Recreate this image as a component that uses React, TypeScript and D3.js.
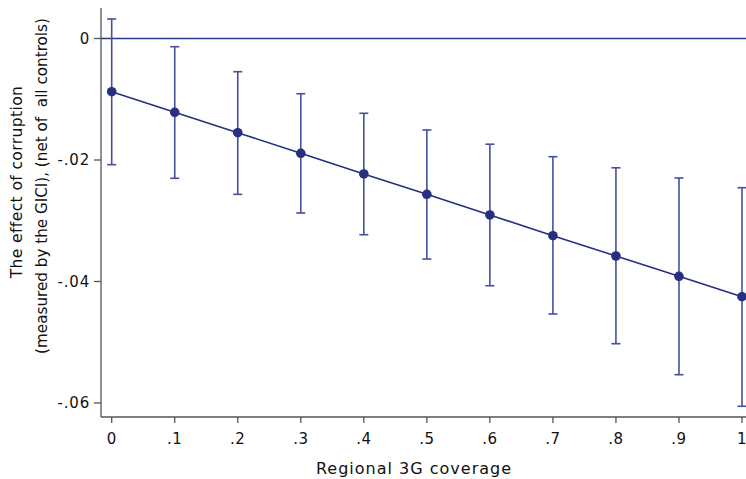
import React from "react";
import * as d3 from "d3";

const coverage = [0, 0.1, 0.2, 0.3, 0.4, 0.5, 0.6, 0.7, 0.8, 0.9, 1];
const effect = [-0.00876, -0.01215, -0.01551, -0.0189, -0.0223, -0.02565, -0.02905, -0.03246, -0.0358, -0.03914, -0.0425];
const upper = [0.00321, -0.00135, -0.00547, -0.00909, -0.01231, -0.01506, -0.0174, -0.01946, -0.02128, -0.02296, -0.02456];
const lower = [-0.02077, -0.02301, -0.02565, -0.02872, -0.0323, -0.0363, -0.0407, -0.04535, -0.05024, -0.05534, -0.06054];
const xTicks = [0, 0.1, 0.2, 0.3, 0.4, 0.5, 0.6, 0.7, 0.8, 0.9, 1];
const xTickLabels = ["0", ".1", ".2", ".3", ".4", ".5", ".6", ".7", ".8", ".9", "1"];
const yTicks = [0, -0.02, -0.04, -0.06];
const yTickLabels = ["0", "-.02", "-.04", "-.06"];
const xTitle = "Regional 3G coverage";
const yTitle1 = "The effect of corruption";
const yTitle2 = "(measured by the GICI), (net of  all controls)";

export default function App() {
  const W = 746, H = 479;
  const x = d3.scaleLinear().domain([0, 1]).range([111.7, 742]);
  const y = d3.scaleLinear().domain([0, -0.06]).range([38.5, 403]);
  const axisX = 101;
  const axisY = 417;
  const font = "'DejaVu Sans', sans-serif";
  const lineColor = "#262f80";
  const barColor = "#45509c";
  const axisColor = "#555";
  const line = d3.line<number>().x((_, i) => x(coverage[i])).y((d) => y(d));
  return (
    <svg width={W} height={H} style={{ position: "absolute", left: 0, top: 0, background: "#fff" }}>
      <rect width={W} height={H} fill="#fff" />
      <line x1={axisX} x2={W} y1={y(0)} y2={y(0)} stroke="#2b3888" strokeWidth={1.5} />
      <line x1={axisX} x2={axisX} y1={8} y2={axisY} stroke={axisColor} strokeWidth={1.3} />
      <line x1={axisX} x2={W} y1={axisY} y2={axisY} stroke={axisColor} strokeWidth={1.3} />
      {yTicks.map((t, i) => (
        <g key={"y" + i}>
          <line x1={axisX - 7} x2={axisX} y1={y(t)} y2={y(t)} stroke={axisColor} strokeWidth={1.3} />
          <text x={90} y={y(t)} dy="0.36em" textAnchor="end" fontFamily={font} fontSize={15} letterSpacing={0.8} fill="#111">
            {yTickLabels[i]}
          </text>
        </g>
      ))}
      {xTicks.map((t, i) => (
        <g key={"x" + i}>
          <line x1={x(t)} x2={x(t)} y1={axisY} y2={axisY + 6} stroke={axisColor} strokeWidth={1.3} />
          <text x={x(t)} y={443.5} textAnchor="middle" fontFamily={font} fontSize={15} letterSpacing={0.5} fill="#111">
            {xTickLabels[i]}
          </text>
        </g>
      ))}
      <text x={414} y={474} textAnchor="middle" fontFamily={font} fontSize={16} letterSpacing={1} fill="#111">
        {xTitle}
      </text>
      <text transform={`translate(22,182) rotate(-90)`} textAnchor="middle" fontFamily={font} fontSize={15.5} letterSpacing={0.4} fill="#111" style={{ whiteSpace: "pre" }}>
        {yTitle1}
      </text>
      <text transform={`translate(47,186) rotate(-90)`} textAnchor="middle" fontFamily={font} fontSize={15.2} fill="#111" style={{ whiteSpace: "pre" }}>
        {yTitle2}
      </text>
      {coverage.map((c, i) => (
        <g key={"e" + i} stroke={barColor} strokeWidth={1.6}>
          <line x1={x(c)} x2={x(c)} y1={y(upper[i])} y2={y(lower[i])} />
          <line x1={x(c) - 4.5} x2={x(c) + 4.5} y1={y(upper[i])} y2={y(upper[i])} />
          <line x1={x(c) - 4.5} x2={x(c) + 4.5} y1={y(lower[i])} y2={y(lower[i])} />
        </g>
      ))}
      <path d={line(effect) || ""} fill="none" stroke={lineColor} strokeWidth={1.6} />
      {coverage.map((c, i) => (
        <circle key={"p" + i} cx={x(c)} cy={y(effect[i])} r={4.8} fill={lineColor} />
      ))}
    </svg>
  );
}
